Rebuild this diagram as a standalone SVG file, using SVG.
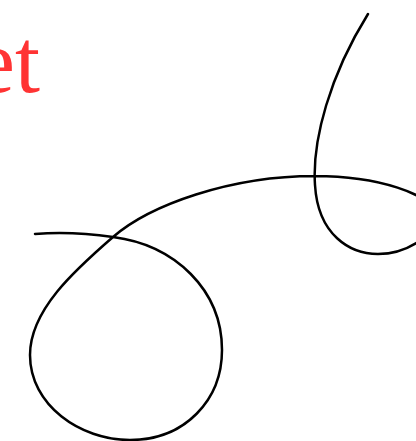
<svg xmlns="http://www.w3.org/2000/svg" width="416" height="441" viewBox="0 0 416 441">
<style>
.lbl{font-family:"Liberation Serif","Times New Roman",serif;font-size:90px;fill:#ff3333}
.crv{fill:none;stroke:#000;stroke-width:2.5;stroke-linecap:round;stroke-linejoin:round}
</style>
<rect width="416" height="441" fill="#fff"/>
<text class="lbl" x="40" y="92" text-anchor="end">et</text>
<path class="crv" d="M368,14 C330,75 312,140 315,185 C318,235 350,254 378,254 C405,254 440,235 435,212 C430,195 380,176 315,176 C230,176 150,205 113,237 C75,270 30,310 30,355 C30,405 80,440 130,440 C185,440 222,400 222,350 C222,290 175,245 113,237 C85,233 60,232 35,234"/>
</svg>
